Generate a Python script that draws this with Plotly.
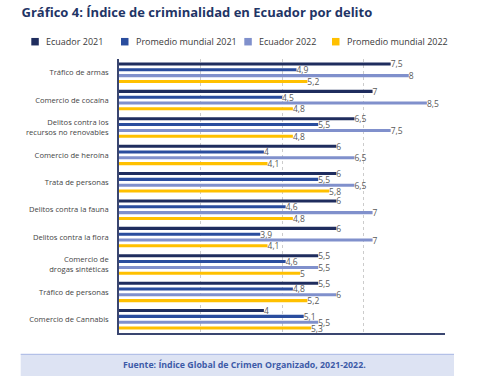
import plotly.graph_objects as go

categories = [
    "Tráfico de armas",
    "Comercio de cocaína",
    "Delitos contra los<br>recursos no renovables",
    "Comercio de heroína",
    "Trata de personas",
    "Delitos contra la fauna",
    "Delitos contra la flora",
    "Comercio de<br>drogas sintéticas",
    "Tráfico de personas",
    "Comercio de Cannabis",
]
ecuador_2021 = [7.5, 7, 6.5, 6, 6, 6, 6, 5.5, 5.5, 4]
promedio_2021 = [4.9, 4.5, 5.5, 4, 5.5, 4.6, 3.9, 4.6, 4.8, 5.1]
ecuador_2022 = [8, 8.5, 7.5, 6.5, 6.5, 7, 7, 5.5, 6, 5.5]
promedio_2022 = [5.2, 4.8, 4.8, 4.1, 5.8, 4.8, 4.1, 5, 5.2, 5.3]

series_names = ["Ecuador 2021", "Promedio mundial 2021", "Ecuador 2022", "Promedio mundial 2022"]
series_values = [ecuador_2021, promedio_2021, ecuador_2022, promedio_2022]
colors = ["#1f2d5e", "#2a4d9e", "#8090cc", "#ffc000"]

FONT = "Open Sans"

def fmt(v):
    return f"{v:g}".replace(".", ",")

fig = go.Figure()
for name, vals, col in zip(series_names, series_values, colors):
    fig.add_trace(go.Bar(
        y=categories, x=vals, orientation="h", name=name,
        marker=dict(color=col, line=dict(width=0)),
        text=[fmt(v) for v in vals], textposition="outside",
        constraintext="none", cliponaxis=False,
        textfont=dict(size=8.5, color="#595959", family=FONT),
        showlegend=False,
    ))

# plot area in page pixels
L, R, T, B = 119, 445, 59, 333
W, H = 480, 378

def px_x(x):
    return (x - L) / (R - L)

def px_y(y):
    return (B - y) / (B - T)

shapes = []
annotations = []
# manual legend
legend_text_x = [44.3, 134, 257.3, 345]
ly = 41.7
sq = 7.5
for name, col, tx in zip(series_names, colors, legend_text_x):
    shapes.append(dict(type="rect", xref="paper", yref="paper",
                       x0=px_x(tx - 5.5 - sq), x1=px_x(tx - 5.5),
                       y0=px_y(ly + sq / 2), y1=px_y(ly - sq / 2),
                       fillcolor=col, line=dict(width=0)))
    annotations.append(dict(text=name, xref="paper", yref="paper",
                            x=px_x(tx), y=px_y(ly), xanchor="left", yanchor="middle",
                            showarrow=False, font=dict(size=9, color="#3a3a3a", family=FONT)))

# footer box
shapes.append(dict(type="rect", xref="paper", yref="paper",
                   x0=px_x(20.7), x1=px_x(454), y0=px_y(376), y1=px_y(354.3),
                   fillcolor="#dde3f3", line=dict(width=0), layer="below"))
shapes.append(dict(type="line", xref="paper", yref="paper",
                   x0=px_x(20.7), x1=px_x(454), y0=px_y(354.3), y1=px_y(354.3),
                   line=dict(color="#a7b6e4", width=1)))
annotations.append(dict(text="<b>Fuente: Índice Global de Crimen Organizado, 2021-2022.</b>",
                        xref="paper", yref="paper", x=px_x(244), y=px_y(365.3),
                        xanchor="center", yanchor="middle", showarrow=False,
                        font=dict(size=8.8, color="#3d5ba8", family=FONT)))

fig.update_layout(
    width=W, height=H,
    margin=dict(l=L, r=W - R, t=T, b=H - B, pad=0),
    paper_bgcolor="white", plot_bgcolor="white",
    barmode="group", bargap=0.15, bargroupgap=0.48,
    separators=",.",
    title=dict(text="<b>Gráfico 4: Índice de criminalidad en Ecuador por delito</b>",
               x=21.5 / W, xanchor="left", y=1 - 12.5 / H, yanchor="middle",
               font=dict(size=13, color="#1f3566", family=FONT)),
    shapes=shapes, annotations=annotations,
    showlegend=False,
    font=dict(family=FONT),
)
fig.update_xaxes(range=[0, 9], tick0=0, dtick=2.25, showticklabels=False,
                 showgrid=True, gridcolor="#cccccc", griddash="3px,3px", gridwidth=1,
                 zeroline=False, showline=True, linecolor="#3a4670", linewidth=1.5,
                 ticks="")
fig.update_yaxes(autorange="reversed", showline=True, linecolor="#3a4670", linewidth=1.5,
                 showgrid=False, ticks="", ticklabelstandoff=7,
                 tickfont=dict(size=7.6, color="#444444", family=FONT))

fig.write_html("out.html", config={"displayModeBar": False},
               post_script="document.body.style.margin='0px';")
